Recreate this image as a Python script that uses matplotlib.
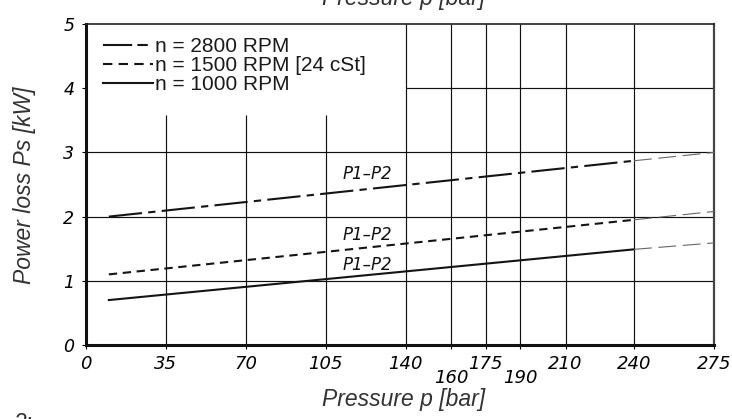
import matplotlib
matplotlib.use("Agg")
import matplotlib.pyplot as plt
from matplotlib.lines import Line2D

# ---- data ----
pressure = [10, 240]
pressure_ext = [240, 275]
loss_2800 = [2.00, 2.87]
loss_2800_ext = [2.87, 3.00]
loss_1500 = [1.10, 1.95]
loss_1500_ext = [1.95, 2.08]
loss_1000 = [0.70, 1.49]
loss_1000_ext = [1.49, 1.59]
series_labels = ["n = 2800 RPM", "n = 1500 RPM [24 cSt]", "n = 1000 RPM"]
curve_label = "P1\u2013P2"
curve_label_pos = [(123, 2.66), (123, 1.71), (123, 1.25)]

xticks = [0, 35, 70, 105, 140, 160, 175, 190, 210, 240, 275]
xtick_labels = ["0", "35", "70", "105", "140", "160", "175", "190", "210", "240", "275"]
low_labels = ["160", "190"]
yticks = [0, 1, 2, 3, 4, 5]
ytick_labels = ["0", "1", "2", "3", "4", "5"]

grid_x_full = [140, 160, 175, 190, 210, 240]
grid_x_partial = [35, 70, 105]
grid_x_partial_top = 3.58
grid_y_full = [1, 2, 3]
grid_y_partial = [4]
grid_y_partial_start = 140

fig = plt.figure(figsize=(7.32, 4.19), dpi=100)
ax = fig.add_axes([86 / 732, (419 - 345) / 419, 628 / 732, 321 / 419])
ax.set_xlim(0, 275)
ax.set_ylim(0, 5)

gcol = "#111111"
ax.vlines(grid_x_full, 0, 5, colors=gcol, lw=0.85, zorder=1)
ax.vlines(grid_x_partial, 0, grid_x_partial_top, colors=gcol, lw=0.85, zorder=1)
ax.hlines(grid_y_full, 0, 275, colors=gcol, lw=0.85, zorder=1)
ax.hlines(grid_y_partial, grid_y_partial_start, 275, colors=gcol, lw=0.85, zorder=1)

lc = "#141414"
lw = 1.5
ax.plot(pressure, loss_2800, color=lc, lw=lw, dashes=(16, 3, 3.5, 3), zorder=3)
ax.plot(pressure, loss_1500, color=lc, lw=lw, dashes=(4, 2.7), zorder=3)
ax.plot(pressure, loss_1000, color=lc, lw=lw, zorder=3)
ecol = "#666666"
for ext in (loss_2800_ext, loss_1500_ext, loss_1000_ext):
    ax.plot(pressure_ext, ext, color=ecol, lw=0.8, dashes=(16, 6), zorder=3)

for (px, py) in curve_label_pos:
    ax.text(px, py, curve_label, fontsize=12, style="italic", ha="center", va="center",
            family="DejaVu Sans", color="#111111", zorder=4)

# legend
handles = [
    Line2D([], [], color=lc, lw=lw, dashes=(14, 2.5, 5, 2.5)),
    Line2D([], [], color=lc, lw=lw, dashes=(4.5, 3)),
    Line2D([], [], color=lc, lw=lw),
]
leg = ax.legend(handles, series_labels, loc="upper left", frameon=False,
                prop={"family": "Liberation Sans", "size": 15},
                handlelength=2.4, handletextpad=0.1, labelspacing=0.0,
                borderaxespad=0.0, borderpad=0.0,
                bbox_to_anchor=(17 / 628, 1 - 13 / 321))
for t in leg.get_texts():
    t.set_color("#1a1a1a")

# ticks
ax.set_xticks(xticks)
ax.set_xticklabels(xtick_labels, fontsize=13, style="italic", family="DejaVu Sans")
ax.set_yticks(yticks)
ax.set_yticklabels(ytick_labels, fontsize=12.5, style="italic", family="DejaVu Sans")
ax.tick_params(axis="x", direction="out", length=3, width=0.8, pad=4)
ax.tick_params(axis="y", direction="out", length=3, width=0.8, pad=5.5)
for tick, lab in zip(ax.xaxis.get_major_ticks(), xtick_labels):
    if lab in low_labels:
        tick.set_pad(14)

# spines
ax.spines["left"].set_linewidth(2.2)
ax.spines["bottom"].set_linewidth(2.2)
ax.spines["top"].set_linewidth(1.2)
ax.spines["right"].set_linewidth(1.6)
ax.spines["left"].set_color("#111111")
ax.spines["bottom"].set_color("#111111")
ax.spines["top"].set_color("#222222")
ax.spines["right"].set_color("#444444")

lab_font = {"family": "Liberation Sans", "size": 16.5, "style": "italic", "color": "#333333"}
fig.text(404 / 732, 1 - 399 / 419, "Pressure p [bar]", ha="center", va="center", **lab_font)
fig.text(25 / 732, 1 - 185 / 419, "Power loss Ps [kW]", ha="center", va="center",
         rotation=90, **lab_font)
fig.text(404 / 732, 1 - 5 / 419, "Pressure p [bar]", ha="center", va="baseline", **lab_font)
fig.text(13 / 732, 1 - 412 / 419, "2:", ha="left", va="top", **lab_font)

fig.savefig("out.png", dpi=100)
